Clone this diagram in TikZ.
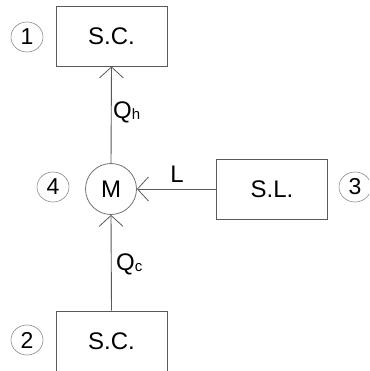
\documentclass[tikz,border=0pt]{standalone}
\usepackage{fontspec}
\setmainfont{Liberation Sans}
\usetikzlibrary{arrows.meta,shapes.geometric}
\begin{document}
\begin{tikzpicture}[x=1pt,y=-1pt,
  unitbox/.style={draw=black!65, line width=0.9pt, minimum width=111pt, minimum height=60pt, inner sep=0pt, font=\fontsize{24}{24}\selectfont},
  machine/.style={circle, draw=black!55, line width=0.8pt, minimum size=51pt, inner sep=0pt, font=\fontsize{24}{24}\selectfont},
  tag/.style={ellipse, draw=black!45, line width=0.6pt, minimum width=32pt, minimum height=30pt, inner sep=0pt, font=\fontsize{23}{23}\selectfont},
  flow/.style={draw=black!65, line width=0.9pt, -{Straight Barb[length=11pt,width=24pt,line width=0.8pt]}},
  lbl/.style={font=\fontsize{24}{24}\selectfont, inner sep=0pt}]
\useasboundingbox (0,0) rectangle (369,371);
\clip (0,0) rectangle (369,371);
% heat reservoirs, work source and the machine
\node[unitbox] (hot) at (111.5,36) {S.C.};
\node[unitbox] (cold) at (111.5,341) {S.C.};
\node[unitbox] (work) at (272,189) {S.L.};
\node[machine] (m) at (111,189) {M};
% numbering tags
\node[tag] (t1) at (27,37) {1};
\node[tag] (t2) at (27,340) {2};
\node[tag] (t3) at (355,187) {3};
\node[tag] (t4) at (53,187) {4};
% energy flows
\draw[flow] (m.north) -- (hot.south);
\draw[flow] (cold.north) -- (m.south);
\draw[flow] (work.west) -- (m.east);
% flow labels
\node[lbl, anchor=west] (qh) at (113,112) {Q\raisebox{-1pt}{\fontsize{15}{15}\selectfont h}};
\node[lbl, anchor=west] (qc) at (116,264) {Q\raisebox{-1pt}{\fontsize{15}{15}\selectfont c}};
\node[lbl] (l) at (177,174) {L};
\end{tikzpicture}
\end{document}
